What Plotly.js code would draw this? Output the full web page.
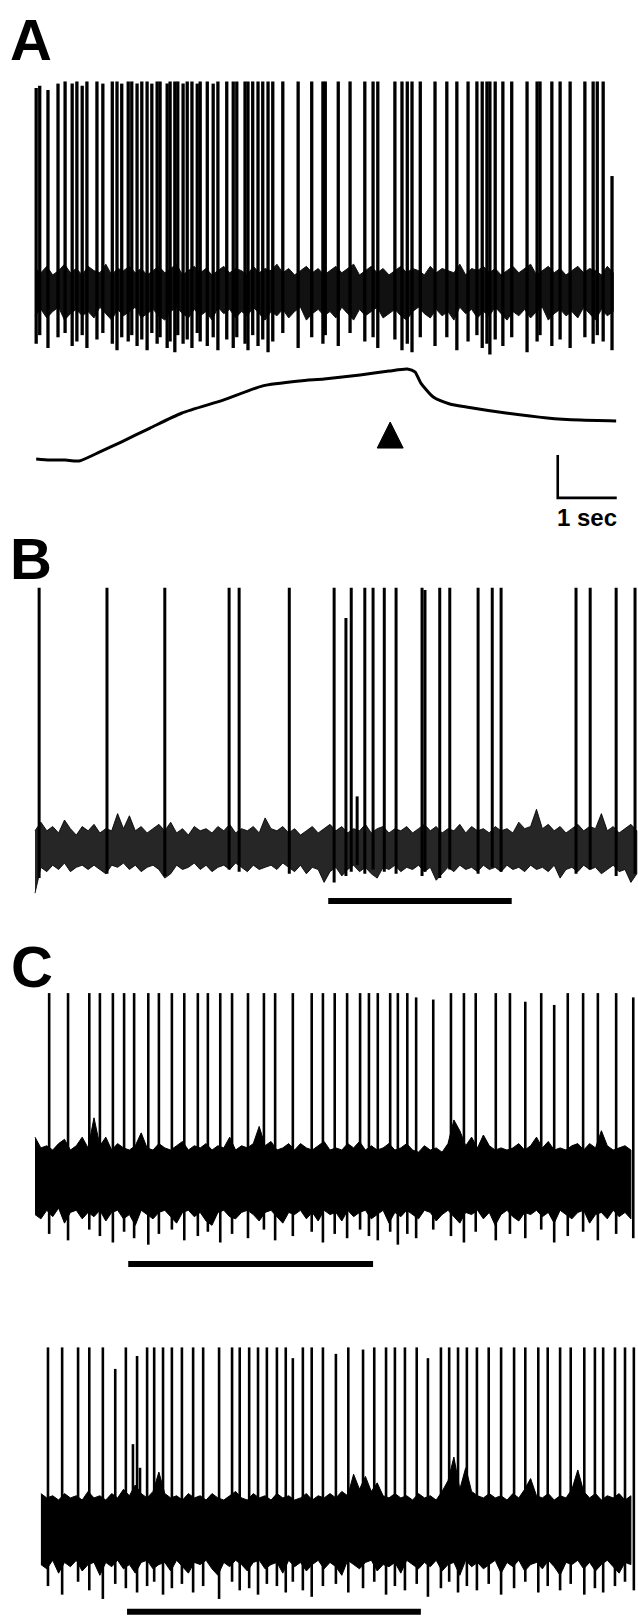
<!DOCTYPE html>
<html><head><meta charset="utf-8">
<script src="https://cdn.plot.ly/plotly-3.0.1.min.js"></script>
<style>html,body{margin:0;padding:0;background:#fff}#chart{width:638px;height:1617px}</style>
</head><body><div id="chart"></div>
<script>
// ---------- DATA (time in s, amplitude in arbitrary units relative to baseline) ----------
// Panel A, top trace: spike times, peak and trough amplitudes
const spikeTimesA = [0.02,0.08,0.22,0.39,0.51,0.63,0.71,0.80,0.88,1.05,1.15,1.31,1.39,1.47,1.58,1.64,1.73,1.81,1.90,1.98,2.07,2.12,2.24,2.29,2.37,2.42,2.51,2.58,2.66,2.75,2.80,2.92,3.02,3.10,3.25,
  3.36,3.42,3.56,3.61,3.69,3.78,3.86,3.95,4.03,4.20,4.46,4.69,4.88,4.92,5.14,5.34,5.59,5.73,5.81,6.10,6.22,6.31,6.39,6.53,
  6.78,6.98,7.15,7.34,7.49,7.58,7.66,7.71,7.80,7.93,8.08,8.34,8.51,8.56,8.76,8.90,9.07,9.32,9.46,9.53,9.63,9.78];
const spikePeaksA = [94,95,93,96,97,96,97,95,97,97,96,97,97,96,97,97,96,97,97,96,97,97,96,97,97,97,96,97,97,96,97,97,96,97,97,
  97,97,97,97,97,97,97,97,97,97,97,97,97,97,97,97,97,97,97,97,97,97,97,97,
  97,97,97,97,97,97,97,97,97,97,97,97,97,97,97,97,97,97,97,97,97,53];
const spikeTroughsA = [-25,-21,-27,-22,-20,-26,-24,-21,-27,-23,-20,-25,-28,-22,-24,-21,-26,-23,-28,-20,-25,-22,-27,-24,-29,-21,-25,-23,-27,-20,-24,-26,-22,-28,-23,
  -27,-22,-25,-28,-21,-26,-23,-29,-24,-20,-27,-22,-25,-21,-26,-20,-24,-22,-27,-23,-28,-25,-29,-22,
  -26,-22,-28,-24,-21,-27,-25,-30,-23,-26,-22,-29,-24,-21,-26,-23,-27,-22,-25,-21,-24,-28];

// shared sampling times of the baseline-noise envelopes (s)
const noiseTimes = [0,0.1,0.2,0.3,0.4,0.5,0.6,0.7,0.8,0.9,1.0,1.1,1.2,1.3,1.4,1.5,1.6,1.7,1.8,1.9,2.0,2.1,2.2,2.3,2.4,2.5,2.6,2.7,2.8,2.9,
  3.0,3.1,3.2,3.3,3.4,3.5,3.6,3.7,3.8,3.9,4.0,4.1,4.2,4.3,4.4,4.5,4.6,4.7,4.8,4.9,5.0,5.1,5.2,5.3,5.4,5.5,5.6,5.7,5.8,5.9,
  6.0,6.1,6.2,6.3,6.4,6.5,6.6,6.7,6.8,6.9,7.0,7.1,7.2,7.3,7.4,7.5,7.6,7.7,7.8,7.9,8.0,8.1,8.2,8.3,8.4,8.5,8.6,8.7,8.8,8.9,
  9.0,9.1,9.2,9.3,9.4,9.5,9.6,9.7,9.8,9.9,10.0,10.1,10.2];

const noiseUpperA = [10,8,11,7,9,12,8,10,7,11,9,8,12,7,10,9,11,8,10,7,9,11,8,10,12,7,9,11,8,10,
  7,9,11,8,10,9,7,11,8,10,9,12,8,10,7,9,11,8,10,7,9,11,8,10,12,7,9,11,8,10,
  7,9,11,8,10,9,7,11,8,10,9,8,12,7,10,9,11,8,10,7,9,11,8,10,12,7,9,11,8,10,
  7,9,11,8,10,9,7,11,8];
const noiseLowerA = [-12,-9,-13,-10,-8,-14,-11,-9,-12,-10,-13,-8,-11,-14,-9,-12,-10,-8,-13,-11,-9,-12,-14,-10,-8,-11,-13,-9,-12,-10,
  -14,-8,-11,-9,-13,-10,-12,-8,-11,-14,-10,-12,-9,-13,-10,-8,-14,-11,-9,-12,-10,-13,-8,-11,-14,-9,-12,-10,-8,-13,
  -11,-9,-12,-14,-10,-8,-11,-13,-9,-12,-10,-14,-8,-11,-9,-13,-10,-12,-8,-11,-14,-10,-12,-9,-13,-10,-8,-14,-11,-9,
  -12,-10,-13,-8,-11,-14,-9,-12,-10];

// Panel A, lower trace (slow signal)
const slowTimesA = [0.02,0.25,0.51,0.75,1.10,1.46,1.95,2.49,3.19,3.86,4.49,4.90,5.51,6.00,6.31,6.44,6.54,6.75,7.03,7.31,7.98,8.68,9.24,9.85];
const slowValuesA = [0,-0.5,-0.5,-0.9,3.3,7.9,14.4,21.4,27.4,34.0,36.3,37.2,39.1,40.9,41.9,40.5,35.3,28.8,25.6,24.2,21.4,19.1,18.1,17.7];
const arrowTime = 6.02, arrowBase = 5.1, arrowTip = 17.2, arrowHalfWidth = 0.22;
const scaleBarOrigin = [8.86, -18.1], scaleBarSeconds = 1, scaleBarUnits = 20;
const scaleBarLabel = "1 sec";

// Panel B
const spikeTimesB = [0.07,1.22,2.20,3.29,3.46,4.31,5.07,5.27,5.36,5.46,5.59,5.73,5.92,6.12,6.56,6.61,6.86,7.03,7.51,7.75,7.90,9.17,9.41,9.85,10.17];
const spikePeaksB = [121,121,121,121,121,121,121,107,121,24,121,121,121,121,121,120,121,121,121,121,121,121,121,121,121];
const spikeTroughsB = [-14,-12,-13,-10,-11,-12,-16,-13,-11,-8,-12,-10,-11,-12,-13,-11,-14,-10,-12,-9,-11,-12,-10,-13,-12];
const noiseUpperB = [8,12,8,10,7,13,9,6,10,8,11,7,9,8,16,9,15,8,10,7,9,11,8,12,7,9,6,10,8,9,
  7,10,8,11,7,9,8,10,7,14,9,8,10,7,9,6,8,10,7,9,11,8,10,7,9,8,11,7,9,10,
  7,9,8,10,7,9,11,8,10,7,9,8,11,7,10,8,9,7,10,8,9,7,12,9,10,18,9,11,8,10,
  7,9,11,8,10,9,16,8,10,7,9,11,8];
const noiseLowerB = [-21,-9,-11,-8,-10,-7,-11,-9,-8,-10,-8,-10,-12,-8,-9,-7,-10,-8,-11,-9,-8,-10,-14,-12,-8,-10,-9,-7,-10,-8,
  -11,-9,-8,-10,-7,-9,-11,-8,-10,-9,-8,-10,-7,-9,-11,-8,-12,-9,-10,-16,-11,-9,-13,-10,-8,-11,-9,-12,-14,-9,
  -10,-8,-11,-9,-10,-8,-11,-9,-15,-12,-9,-11,-8,-10,-9,-11,-8,-10,-9,-11,-8,-10,-9,-11,-8,-10,-9,-11,-8,-14,
  -10,-9,-11,-8,-10,-9,-12,-10,-8,-11,-10,-16,-12];
const stimB = [4.97, 8.08], stimLevelB = -24.7;

// Panel C, first trace
const spikeTimesC1 = [0.24,0.56,0.92,1.10,1.32,1.51,1.68,1.92,2.10,2.32,2.53,2.76,2.93,3.14,3.34,3.61,3.88,4.07,4.37,4.69,4.88,5.08,5.29,5.51,5.66,5.81,6.02,6.15,6.31,6.46,6.75,7.05,7.27,7.47,7.81,8.05,8.31,8.58,8.80,9.03,9.29,9.54,9.85,10.14];
const spikePeaksC1 = [86,86,86,86,86,86,86,86,86,86,86,86,86,86,86,86,86,86,86,86,86,86,86,86,86,86,86,86,86,84,83,86,86,86,86,86,82,86,80.5,86,86,86,86,84];
const spikeTroughsC1 = [-26,-29,-24,-27,-30,-25,-28,-31,-26,-24,-29,-27,-25,-30,-26,-28,-24,-29,-27,-25,-30,-26,-28,-24,-27,-29,-25,-31,-26,-28,-24,-27,-30,-25,-29,-26,-28,-24,-30,-27,-25,-29,-26,-28];
const noiseUpperC1 = [19,14,15,13,16,18,13,15,19,14,28,15,19,13,16,14,13,15,21,14,13,16,14,13,15,17,13,15,14,16,
  13,15,14,19,13,15,14,16,24,15,17,13,14,16,13,16,14,13,15,17,13,14,13,16,14,17,13,15,13,14,
  16,13,14,16,13,12,15,13,14,12,16,27,22,15,19,14,20,15,13,14,13,14,16,13,15,19,14,17,13,14,
  13,15,16,13,16,14,22,15,13,14,15,13];
const noiseLowerC1 = [-17,-19,-15,-18,-14,-21,-16,-15,-19,-16,-18,-15,-20,-16,-15,-19,-17,-22,-15,-17,-19,-16,-15,-18,-21,-16,-15,-18,-16,-20,
  -22,-16,-15,-18,-19,-16,-15,-17,-20,-16,-15,-18,-21,-16,-17,-15,-19,-16,-20,-15,-17,-16,-20,-15,-18,-16,-15,-19,-17,-15,
  -21,-16,-18,-15,-17,-19,-15,-16,-20,-17,-15,-18,-21,-16,-17,-15,-19,-16,-22,-17,-15,-18,-20,-16,-17,-15,-18,-16,-21,-15,
  -17,-19,-16,-15,-21,-17,-16,-19,-15,-18,-16,-19];
const stimC1 = [1.58, 5.73], stimLevelC1 = -40;

// Panel C, second trace (noise envelope starts at 0.1 s)
const spikeTimesC2 = [0.22,0.46,0.73,0.92,1.15,1.36,1.54,1.66,1.73,1.78,1.90,2.02,2.17,2.32,2.49,2.68,2.85,3.12,3.34,3.47,3.63,3.78,3.93,4.10,4.25,4.37,4.54,4.69,4.88,5.10,5.31,5.56,5.75,5.95,6.10,6.27,6.47,6.66,6.88,7.02,7.17,7.32,7.49,7.69,7.90,8.12,8.31,8.53,8.69,8.90,9.08,9.31,9.49,9.63,9.83,10.00,10.15];
const spikePeaksC2 = [84,84,84,84,84,74,84,39,80,28,84,84,84,84,84,84,84,84,84,84,84,84,84,84,84,79,84,84,84,81,84,83,84,84,84,84,84,79,84,84,84,84,84,84,84,84,84,84,84,84,84,84,84,84,84,84,84];
const spikeTroughsC2 = [-27,-31,-25,-29,-33,-26,-28,-15,-30,-15,-27,-25,-31,-28,-26,-30,-27,-33,-25,-29,-28,-31,-26,-27,-30,-25,-29,-32,-27,-26,-30,-28,-25,-31,-27,-29,-26,-32,-28,-25,-30,-27,-29,-26,-31,-28,-25,-30,-27,-29,-26,-31,-28,-30,-27,-25,-29];
const noiseUpperC2 = [16,14,15,13,16,14,15,13,17,14,15,13,16,14,18,15,20,16,14,17,26,16,14,15,13,16,14,15,13,16,
  14,13,15,17,14,13,16,14,15,13,16,14,15,13,14,16,13,15,14,16,14,17,15,25,18,24,17,21,15,14,
  16,14,15,13,16,14,15,13,17,22,33,18,28,17,15,14,16,14,15,13,16,14,18,23,15,14,16,13,15,14,
  18,27,17,14,16,13,15,14,16,13,15];
const noiseLowerC2 = [-17,-19,-15,-21,-16,-18,-15,-20,-17,-16,-22,-16,-18,-15,-19,-17,-21,-16,-15,-19,-17,-16,-20,-15,-18,-21,-16,-17,-15,-19,
  -22,-16,-18,-15,-17,-20,-16,-15,-19,-17,-16,-21,-15,-18,-16,-20,-17,-15,-19,-16,-18,-22,-15,-17,-19,-16,-15,-20,-17,-18,
  -16,-21,-15,-17,-19,-16,-18,-15,-20,-17,-16,-22,-15,-18,-16,-19,-17,-15,-21,-16,-18,-15,-20,-17,-16,-19,-15,-18,-22,-16,
  -17,-15,-19,-16,-20,-17,-15,-18,-21,-16,-17];
const stimC2 = [1.56, 6.54], stimLevelC2 = -39;

const panelLabels = ["A", "B", "C"];

// ---------- LAYOUT HELPERS ----------
const W = 638, H = 1617;
const PX_PER_UNIT = 2.15, PX_PER_SEC = 59, X0_PX = 35;
function yAxis(topPx, botPx, basePx) {
  return {domain: [1 - botPx / H, 1 - topPx / H],
          range: [-(botPx - basePx) / PX_PER_UNIT, (basePx - topPx) / PX_PER_UNIT],
          visible: false, fixedrange: true, anchor: 'x'};
}
function spikes(times, peaks, troughs, yref, width) {
  const x = [], y = [];
  times.forEach((t, i) => { x.push(t, t, null); y.push(troughs[i], peaks[i], null); });
  return {type: 'scatter', mode: 'lines', x, y, yaxis: yref, hoverinfo: 'skip',
          line: {color: '#000', width: width}};
}
function band(times, up, lo, yref, color) {
  const n = Math.min(times.length, up.length, lo.length);
  const t = times.slice(0, n), u = up.slice(0, n), l = lo.slice(0, n);
  return {type: 'scatter', mode: 'lines', yaxis: yref, hoverinfo: 'skip',
          x: t.concat(t.slice().reverse()),
          y: u.concat(l.slice().reverse()),
          fill: 'toself', fillcolor: color, line: {color: color, width: 1}};
}
function hbar(range, level, yref) {
  return {type: 'scatter', mode: 'lines', x: range, y: [level, level], yaxis: yref,
          hoverinfo: 'skip', line: {color: '#000', width: 6}};
}

const data = [
  band(noiseTimes, noiseUpperA, noiseLowerA, 'y', '#111'),
  spikes(spikeTimesA, spikePeaksA, spikeTroughsA, 'y', 3.3),
  {type: 'scatter', mode: 'lines', x: slowTimesA, y: slowValuesA, yaxis: 'y2', hoverinfo: 'skip',
   line: {color: '#000', width: 3, shape: 'spline', smoothing: 0.6}},
  {type: 'scatter', mode: 'lines', yaxis: 'y2', hoverinfo: 'skip', fill: 'toself', fillcolor: '#000',
   x: [arrowTime - arrowHalfWidth, arrowTime + arrowHalfWidth, arrowTime, arrowTime - arrowHalfWidth],
   y: [arrowBase, arrowBase, arrowTip, arrowBase], line: {color: '#000', width: 1}},
  {type: 'scatter', mode: 'lines', yaxis: 'y2', hoverinfo: 'skip',
   x: [scaleBarOrigin[0], scaleBarOrigin[0], scaleBarOrigin[0] + scaleBarSeconds],
   y: [scaleBarOrigin[1] + scaleBarUnits, scaleBarOrigin[1], scaleBarOrigin[1]],
   line: {color: '#000', width: 2.6}},
  band(noiseTimes, noiseUpperB, noiseLowerB, 'y3', 'rgba(0,0,0,0.85)'),
  spikes(spikeTimesB, spikePeaksB, spikeTroughsB, 'y3', 3),
  hbar(stimB, stimLevelB, 'y3'),
  band(noiseTimes, noiseUpperC1, noiseLowerC1, 'y4', '#000'),
  spikes(spikeTimesC1, spikePeaksC1, spikeTroughsC1, 'y4', 2.6),
  hbar(stimC1, stimLevelC1, 'y4'),
  band(noiseTimes.slice(1), noiseUpperC2, noiseLowerC2, 'y5', '#000'),
  spikes(spikeTimesC2, spikePeaksC2, spikeTroughsC2, 'y5', 2.6),
  hbar(stimC2, stimLevelC2, 'y5')
];

const labelFont = {family: 'Liberation Sans, Arial, sans-serif', size: 58, color: '#000', weight: 'bold'};
const layout = {
  width: W, height: H, margin: {l: 0, r: 0, t: 0, b: 0},
  paper_bgcolor: '#fff', plot_bgcolor: '#fff', showlegend: false,
  xaxis: {range: [-X0_PX / PX_PER_SEC, (W - X0_PX) / PX_PER_SEC], domain: [0, 1], visible: false, fixedrange: true},
  yaxis: yAxis(60, 362, 290),
  yaxis2: yAxis(355, 540, 459),
  yaxis3: yAxis(570, 915, 848),
  yaxis4: yAxis(980, 1280, 1178),
  yaxis5: yAxis(1330, 1617, 1528),
  annotations: [
    {text: '<b>' + panelLabels[0] + '</b>', xref: 'paper', yref: 'paper', x: 31 / W, y: 1 - 40 / H, xanchor: 'center', yanchor: 'middle', showarrow: false, font: labelFont},
    {text: '<b>' + panelLabels[1] + '</b>', xref: 'paper', yref: 'paper', x: 31 / W, y: 1 - 558 / H, xanchor: 'center', yanchor: 'middle', showarrow: false, font: labelFont},
    {text: '<b>' + panelLabels[2] + '</b>', xref: 'paper', yref: 'paper', x: 32 / W, y: 1 - 966 / H, xanchor: 'center', yanchor: 'middle', showarrow: false, font: labelFont},
    {text: '<b>' + scaleBarLabel + '</b>', xref: 'x', yref: 'y2', x: scaleBarOrigin[0] + scaleBarSeconds / 2, y: -27, xanchor: 'center', yanchor: 'middle', showarrow: false,
     font: {family: 'Liberation Sans, Arial, sans-serif', size: 24, color: '#000'}}
  ]
};
Plotly.newPlot('chart', data, layout, {staticPlot: true, displayModeBar: false});
</script></body></html>
